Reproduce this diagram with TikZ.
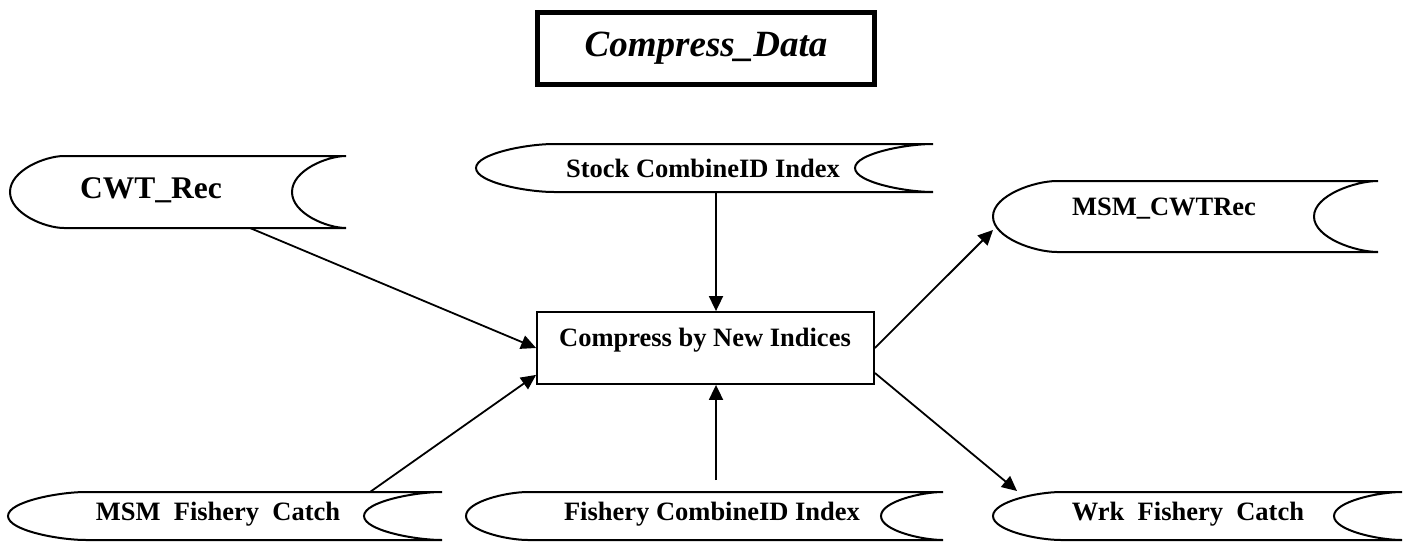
\documentclass[tikz,border=0pt]{standalone}
\usepackage{fontspec}
\setmainfont{Liberation Serif}
\usetikzlibrary{arrows.meta,calc}
\tikzset{
  shapeline/.style={draw=black,line width=2pt},
  conn/.style={draw=black,line width=1.8pt,-{Triangle[length=15pt,width=14pt]}},
  lbl/.style={inner sep=0pt,font=\fontsize{26.5}{30}\selectfont\bfseries},
}
\newcommand\storedshape[5]{%
  \pgfmathsetmacro\shL{#1}\pgfmathsetmacro\shR{#2}%
  \pgfmathsetmacro\shT{#3}\pgfmathsetmacro\shB{#4}%
  \pgfmathsetmacro\shA{#5}%
  \pgfmathsetmacro\shM{(\shT+\shB)/2}%
  \pgfmathsetmacro\shK{0.6*(\shB-\shT)/2}%
  \pgfmathsetmacro\shC{0.35*\shA}%
  \draw[shapeline] (\shL+\shA,\shT) -- (\shR,\shT)
    .. controls (\shR-\shC,\shT) and (\shR-\shA,\shM-\shK) .. (\shR-\shA,\shM)
    .. controls (\shR-\shA,\shM+\shK) and (\shR-\shC,\shB) .. (\shR,\shB)
    -- (\shL+\shA,\shB)
    .. controls (\shL+\shA-\shC,\shB) and (\shL,\shM+\shK) .. (\shL,\shM)
    .. controls (\shL,\shM-\shK) and (\shL+\shA-\shC,\shT) .. cycle;
}
\begin{document}
\begin{tikzpicture}[x=1pt,y=-1pt]
\useasboundingbox (0,0) rectangle (1411,541);
\fill[white] (0,0) rectangle (1411,541);

% title
\node[draw=black,line width=5pt,minimum width=337pt,minimum height=72pt,inner sep=0pt,
      font=\fontsize{37}{40}\selectfont\bfseries\itshape] (title) at (706,48.5) {Compress\_Data};

% stored data shapes
\storedshape{10}{346}{156}{228}{54}
\storedshape{476}{933}{144}{192}{78}
\storedshape{993}{1378}{181}{252}{64}
\storedshape{8}{442}{492}{540}{78}
\storedshape{466}{943}{492}{540}{62}
\storedshape{993}{1402}{492}{540}{68}

\node[lbl,font=\fontsize{31.5}{34}\selectfont\bfseries] (cwt) at (151,190) {CWT\_Rec};
\node[lbl] (stock) at (703,168) {Stock CombineID Index};
\node[lbl] (msmcwt) at (1164,209) {MSM\_CWTRec};
\node[lbl] (msmfc) at (218,514) {MSM\ \ Fishery\ \ Catch};
\node[lbl] (fcid) at (712,514) {Fishery CombineID Index};
\node[lbl] (wrk) at (1188,514) {Wrk\ \ Fishery\ \ Catch};

% process box
\node[draw=black,line width=1.8pt,minimum width=337pt,minimum height=72pt,inner sep=0pt] (box) at (705.5,348) {};
\node[lbl] (boxtxt) at (705,340) {Compress by New Indices};

% connector endpoints
\coordinate (cwtout) at (250,228);
\coordinate (msmfcout) at (370,492);
\coordinate (stockout) at (716,192);
\coordinate (fcidout) at (716,480);
\coordinate (msmcwtin) at (993,230);
\coordinate (wrkin) at (1017,491);

\draw[conn] (cwtout) -- (box.west);
\draw[conn] (msmfcout) -- ($(box.south west)+(0,-10)$);
\draw[conn] (stockout) -- (stockout |- box.north);
\draw[conn] (fcidout) -- (fcidout |- box.south);
\draw[conn] (box.east) -- (msmcwtin);
\draw[conn] ($(box.east)+(0,25)$) -- (wrkin);
\end{tikzpicture}
\end{document}
